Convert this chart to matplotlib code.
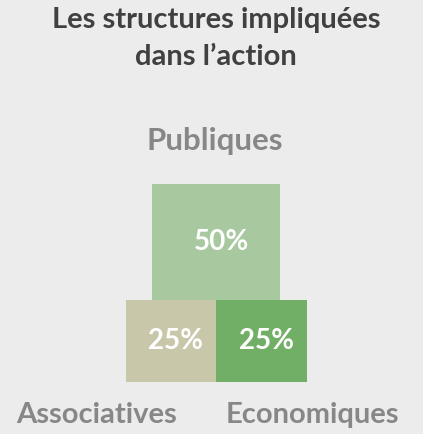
import matplotlib.pyplot as plt
import numpy as np
from matplotlib.patches import Rectangle

title_lines = ["Les structures impliquées", "dans l\u2019action"]
categories = ["Publiques", "Associatives", "Economiques"]
values = [50, 25, 25]
colors = ["#a8c8a0", "#c8c7aa", "#72af66"]

plt.rcParams['font.family'] = ['Lato', 'DejaVu Sans']

fig = plt.figure(figsize=(4.23, 4.34), dpi=100, facecolor="#ececec")
ax = fig.add_axes([0, 0, 1, 1])
ax.set_xlim(0, 423)
ax.set_ylim(434, 0)
ax.axis('off')

# box sides scale with sqrt of share
kx, ky = 18.1, 16.4
cx = 216
w = [np.sqrt(v) * kx for v in values]
h = [np.sqrt(v) * ky for v in values]
base = 382

# bottom row: two boxes side by side
left0 = cx - (w[1] + w[2]) / 2
boxes = [
    (cx - w[0] / 2, base - h[1] - h[0], w[0], h[0]),
    (left0, base - h[1], w[1], h[1]),
    (left0 + w[1], base - h[2], w[2], h[2]),
]
for (x0, y0, bw, bh), v, c in zip(boxes, values, colors):
    ax.add_patch(Rectangle((x0, y0), bw, bh, facecolor=c, edgecolor='none'))
    ax.text(x0 + bw / 2 + 5, y0 + bh / 2 + 8, f"{v}%", color='white', fontsize=20,
            fontweight='bold', ha='center', va='baseline')

lab_pos = [(215, 150), (97, 423), (312, 423)]
lab_size = [22.5, 21, 21]
for (x, y), lab, fs in zip(lab_pos, categories, lab_size):
    ax.text(x, y, lab, color='#878787', fontsize=fs, fontweight='bold',
            ha='center', va='baseline')

for y, line in zip([28, 65], title_lines):
    ax.text(216, y, line, color='#404040', fontsize=21, fontweight='bold',
            ha='center', va='baseline')

fig.savefig("out.png", dpi=100, facecolor=fig.get_facecolor())
